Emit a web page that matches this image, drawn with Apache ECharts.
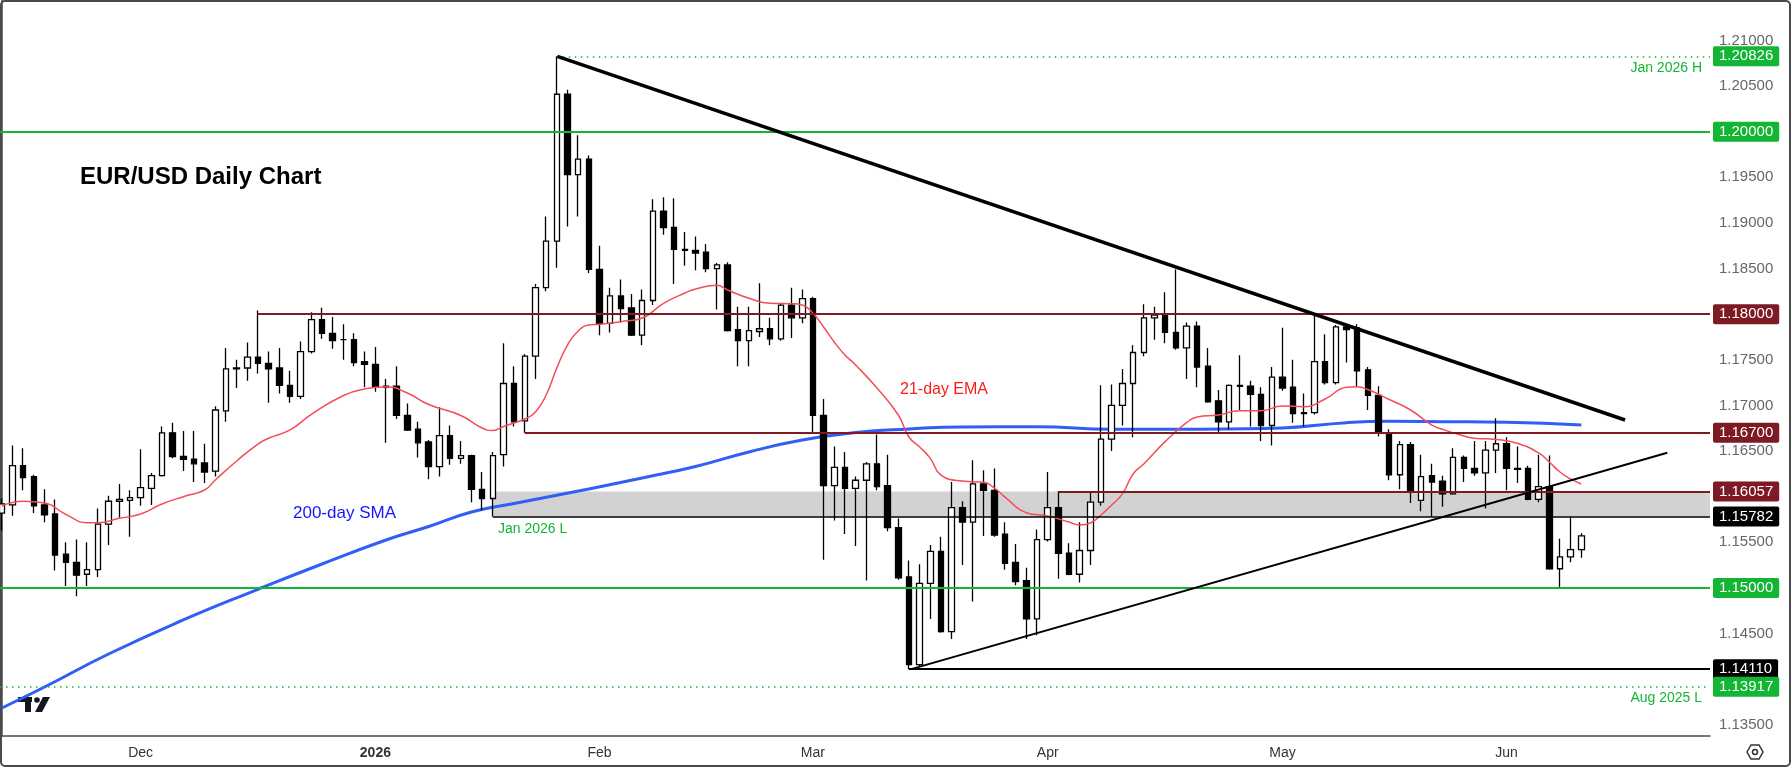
<!DOCTYPE html>
<html>
<head>
<meta charset="utf-8">
<title>EUR/USD Daily Chart</title>
<script src="https://cdn.jsdelivr.net/npm/echarts@6/dist/echarts.min.js"></script>
<style>
  html, body { margin: 0; padding: 0; background: #fff; }
  #chart { width: 1791px; height: 767px; }
</style>
</head>
<body>
<div id="chart"></div>
<script>
// daily bars, Nov 12 2025 .. Jun 10 2026 (index 0..148)
var opens = [1.1582,1.1591,1.1634,1.1622,1.1591,1.1581,1.1537,1.1528,1.1515,1.1520,1.1570,1.1595,1.1596,1.1599,1.1609,1.1623,1.1670,1.1644,1.1641,1.1637,
  1.1628,1.1694,1.1740,1.1741,1.1753,1.1746,1.1741,1.1722,1.1710,1.1759,1.1794,1.1779,1.1772,1.1772,1.1748,1.1745,1.1720,1.1721,1.1689,1.1674,
  1.1660,1.1633,1.1667,1.1642,1.1645,1.1608,1.1598,1.1646,1.1724,1.1683,1.1754,1.1829,1.1880,1.2041,1.1953,1.1970,1.1849,1.1790,1.1820,1.1807,
  1.1777,1.1815,1.1913,1.1895,1.1871,1.1870,1.1868,1.1850,1.1854,1.1783,1.1771,1.1781,1.1784,1.1773,1.1810,1.1796,1.1817,1.1689,1.1612,1.1632,
  1.1609,1.1618,1.1636,1.1612,1.1566,1.1512,1.1416,1.1505,1.1540,1.1452,1.1588,1.1572,1.1614,1.1607,1.1559,1.1528,1.1508,1.1466,1.1553,1.1588,
  1.1538,1.1515,1.1541,1.1594,1.1663,1.1700,1.1724,1.1758,1.1796,1.1799,1.1780,1.1763,1.1787,1.1743,1.1705,1.1682,1.1722,1.1721,1.1712,1.1678,
  1.1731,1.1720,1.1692,1.1692,1.1748,1.1725,1.1786,1.1785,1.1739,1.1711,1.1670,1.1624,1.1657,1.1596,1.1623,1.1617,1.1603,1.1643,1.1631,1.1626,
  1.1651,1.1658,1.1631,1.1631,1.1597,1.1611,1.1521,1.1534,1.1542];
var highs = [1.1598,1.1656,1.1653,1.1624,1.1608,1.1597,1.1550,1.1553,1.1550,1.1587,1.1601,1.1614,1.1607,1.1652,1.1626,1.1677,1.1681,1.1672,1.1672,1.1658,
  1.1699,1.1763,1.1750,1.1769,1.1804,1.1759,1.1763,1.1738,1.1770,1.1802,1.1807,1.1797,1.1789,1.1779,1.1759,1.1764,1.1729,1.1743,1.1702,1.1682,
  1.1662,1.1698,1.1678,1.1661,1.1646,1.1627,1.1649,1.1768,1.1743,1.1756,1.1833,1.1907,1.20826,1.2046,1.1996,1.1974,1.1875,1.1829,1.1838,1.1822,
  1.1827,1.1926,1.1928,1.1927,1.1890,1.1885,1.1877,1.1856,1.1857,1.1808,1.1808,1.1834,1.1796,1.1812,1.1829,1.1827,1.1819,1.1707,1.1655,1.1649,
  1.1622,1.1638,1.1668,1.1646,1.1576,1.1530,1.1526,1.1547,1.1556,1.1616,1.1595,1.1640,1.1629,1.1631,1.1572,1.1548,1.1522,1.1564,1.1627,1.1606,
  1.1549,1.1572,1.1605,1.1722,1.1723,1.1740,1.1766,1.1811,1.1808,1.1824,1.1849,1.1791,1.1792,1.1763,1.1717,1.1723,1.1755,1.1727,1.1720,1.1742,
  1.1785,1.1750,1.1713,1.1798,1.1778,1.1788,1.1789,1.1789,1.1742,1.1721,1.1674,1.1661,1.1660,1.1646,1.1636,1.1623,1.1653,1.1645,1.1661,1.1661,
  1.1686,1.1665,1.1655,1.1634,1.1646,1.1645,1.1554,1.1578,1.1560];
var lows = [1.1563,1.1579,1.1607,1.1582,1.1572,1.1519,1.1502,1.1491,1.1502,1.1512,1.1547,1.1577,1.1556,1.1590,1.1591,1.1622,1.1642,1.1628,1.1616,1.1615,
  1.1622,1.1682,1.1719,1.1727,1.1735,1.1703,1.1713,1.1703,1.1707,1.1757,1.1773,1.1762,1.1750,1.1743,1.1720,1.1715,1.1659,1.1685,1.1672,1.1643,
  1.1619,1.1622,1.1635,1.1636,1.1594,1.1585,1.15782,1.1633,1.1677,1.1670,1.1729,1.1825,1.1851,1.1896,1.1907,1.1845,1.1777,1.1780,1.1791,1.1776,
  1.1766,1.1810,1.1887,1.1833,1.1853,1.1848,1.1846,1.1805,1.1781,1.1743,1.1743,1.1775,1.1766,1.1771,1.1774,1.1790,1.1671,1.1531,1.1574,1.1559,
  1.1546,1.1508,1.1607,1.1562,1.1509,1.1411,1.1414,1.1466,1.1451,1.1444,1.1525,1.1485,1.1557,1.1556,1.1520,1.1503,1.1444,1.1448,1.1551,1.1510,
  1.1514,1.1506,1.1525,1.1590,1.1650,1.1678,1.1665,1.1754,1.1772,1.1768,1.1761,1.1729,1.1720,1.1703,1.1671,1.1674,1.1695,1.1677,1.1661,1.1656,
  1.1716,1.1681,1.1677,1.1690,1.1723,1.1723,1.1747,1.1720,1.1695,1.1666,1.1618,1.1608,1.1593,1.1584,1.1578,1.1589,1.1602,1.1616,1.1623,1.1587,
  1.1626,1.1607,1.1615,1.1596,1.1594,1.1520,1.1501,1.1528,1.1533];
var closes = [1.1592,1.1634,1.1621,1.1590,1.1580,1.1536,1.1528,1.1514,1.1520,1.1570,1.1595,1.1597,1.1599,1.1610,1.1623,1.1670,1.1644,1.1641,1.1636,1.1627,
  1.1695,1.1740,1.1741,1.1753,1.1746,1.1740,1.1722,1.1710,1.1759,1.1794,1.1779,1.1771,1.1772,1.1747,1.1745,1.1720,1.1721,1.1689,1.1673,1.1659,
  1.1633,1.1667,1.1642,1.1645,1.1608,1.1598,1.1645,1.1724,1.1682,1.1754,1.1829,1.1880,1.2041,1.1953,1.1970,1.1849,1.1790,1.1820,1.1806,1.1777,
  1.1815,1.1913,1.1895,1.1871,1.1870,1.1867,1.1850,1.1854,1.1782,1.1771,1.1782,1.1784,1.1773,1.1810,1.1796,1.1817,1.1689,1.1612,1.1632,1.1609,
  1.1618,1.1636,1.1611,1.1566,1.1511,1.1416,1.1505,1.1540,1.1452,1.1588,1.1572,1.1614,1.1607,1.1558,1.1527,1.1507,1.1466,1.1553,1.1588,1.1538,
  1.1515,1.1541,1.1594,1.1663,1.1700,1.1724,1.1758,1.1796,1.1799,1.1780,1.1763,1.1787,1.1742,1.1704,1.1682,1.1722,1.1721,1.1712,1.1678,1.1731,
  1.1719,1.1691,1.1691,1.1748,1.1725,1.1786,1.1783,1.1738,1.1711,1.1670,1.1624,1.1657,1.1606,1.1622,1.1616,1.1603,1.1643,1.1631,1.1626,1.1651,
  1.1658,1.1631,1.1630,1.1597,1.1611,1.1521,1.1534,1.1542,1.1557];

// 21-day EMA, read at these bars
var emaBars = [0,2,4,6,8,9,11,13,15,17,19,20,22,24,25,27,29,32,34,36,38,40,43,45,46,47,49,50,51,52,53,54,55,56,58,60,62,64,65,67,68,70,72,74,75,76,77,78,79,80,
  82,84,85,86,87,88,90,92,93,94,96,98,100,101,102,103,104,105,106,107,109,111,112,114,116,118,120,122,124,126,127,128,130,132,134,135,137,138,140,142,144,145,146,147,148];
var emaValues = [1.15898,1.15949,1.15931,1.15805,1.15715,1.15715,1.15763,1.15810,1.15920,1.16000,1.16073,1.16183,1.16391,1.16577,1.16640,1.16731,1.16901,1.17109,1.17180,1.17205,
  1.17136,1.17010,1.16890,1.16753,1.16725,1.16769,1.16851,1.16928,1.17114,1.17410,1.17662,1.17816,1.17881,1.17889,1.17918,1.17958,1.18119,1.18232,1.18276,1.18316,
  1.18265,1.18174,1.18119,1.18114,1.18101,1.18010,1.17859,1.17695,1.17553,1.17443,1.17191,1.16895,1.16654,1.16545,1.16420,1.16237,1.16171,1.16157,1.16095,1.15996,
  1.15824,1.15788,1.15722,1.15690,1.15712,1.15799,1.15909,1.16030,1.16249,1.16358,1.16603,1.16811,1.16873,1.16895,1.16942,1.16942,1.16994,1.16986,1.17071,1.17199,
  1.17205,1.17174,1.17065,1.16950,1.16785,1.16738,1.16665,1.16640,1.16627,1.16585,1.16479,1.16380,1.16270,1.16194,1.16139];

// 200-day SMA, read at these bars
var smaBars = [0,4,10,17,24,30,36,40,44,48,55,60,65,70,75,80,85,90,97,104,110,115,120,126,130,135,141,148];
var smaValues = [1.13684,1.13914,1.14276,1.14649,1.14985,1.15262,1.15525,1.15673,1.15832,1.15925,1.16084,1.16205,1.16331,1.16490,1.16621,1.16703,1.16742,1.16764,1.16767,1.16738,
  1.16738,1.16742,1.16753,1.16811,1.16826,1.16822,1.16815,1.16786];

// x-axis month labels (first bar of each month)
var monthBars = [13, 35, 56, 76, 98, 120, 141];
var monthLabels = ['Dec', '2026', 'Feb', 'Mar', 'Apr', 'May', 'Jun'];

// price scale labels shown in grey
var priceTicks = [1.135, 1.145, 1.155, 1.165, 1.17, 1.175, 1.185, 1.19, 1.195, 1.205, 1.21];

// horizontal levels: price, first bar (null = whole width), colour, style
var levelPrices = [1.20826, 1.20000, 1.18000, 1.16700, 1.16057, 1.15782, 1.15000, 1.14110, 1.13917];
var levelStart  = [52, null, 24, 49, 99, 46, null, 85, null];
var levelColors = ['#13b534', '#13b534', '#7d1a24', '#7d1a24', '#7d1a24', '#000000', '#13b534', '#000000', '#13b534'];
var levelWidths = [1.5, 2, 2, 2, 2, 1.5, 2, 2, 1.5];
var levelDotted = [true, false, false, false, false, false, false, false, true];

// trend lines [bar, price]
var downTrend = [[52.05, 1.20826], [152.1, 1.16840]];
var upTrend = [[85.2, 1.14110], [156.06, 1.16482]];

// support zone
var zoneLow = 1.15782, zoneHigh = 1.16057, zoneStart = 46;

var X_MIN = -0.175, X_MAX = 160.06;
var Y_MIN = 1.133772, Y_MAX = 1.214430;

var candles = opens.map(function (o, i) { return [i, o, closes[i], lows[i], highs[i]]; });
var ema = emaBars.map(function (b, i) { return [b, emaValues[i]]; });
var sma = smaBars.map(function (b, i) { return [b, smaValues[i]]; });

var levelLines = levelPrices.map(function (p, i) {
  return [
    { coord: [levelStart[i] == null ? X_MIN : levelStart[i], p] },
    {
      coord: [X_MAX, p],
      lineStyle: { color: levelColors[i], width: levelWidths[i], type: levelDotted[i] ? [1.5, 4.5] : 'solid' },
      label: {
        show: true, position: 'end', distance: 3,
        formatter: p.toFixed(5),
        color: '#fff', backgroundColor: levelColors[i],
        fontFamily: 'Liberation Sans', fontSize: 15, padding: [3, 6, 2, 6], borderRadius: 2
      }
    }
  ];
});

var FONT = 'Liberation Sans';

var chart = echarts.init(document.getElementById('chart'));
chart.setOption({
  animation: false,
  backgroundColor: '#ffffff',
  grid: { left: 0, right: 81, top: 0, bottom: 31 },
  xAxis: {
    type: 'value', min: X_MIN, max: X_MAX,
    splitLine: { show: false },
    axisTick: { show: false },
    axisLine: { show: true, onZero: false, lineStyle: { color: '#4a4a4a', width: 1.5 } },
    axisLabel: {
      customValues: monthBars,
      margin: 10,
      color: '#333', fontFamily: FONT, fontSize: 14,
      formatter: function (v) {
        var k = monthBars.indexOf(Math.round(v));
        var t = k < 0 ? '' : monthLabels[k];
        return t === '2026' ? '{b|2026}' : t;
      },
      rich: { b: { fontWeight: 'bold', color: '#333', fontFamily: FONT, fontSize: 14 } }
    }
  },
  yAxis: {
    type: 'value', position: 'right', min: Y_MIN, max: Y_MAX, scale: true,
    splitLine: { show: false },
    axisTick: { show: false },
    axisLine: { show: true, lineStyle: { color: '#4a4a4a', width: 1.5 } },
    axisLabel: {
      customValues: priceTicks,
      margin: 9,
      color: '#666', fontFamily: FONT, fontSize: 15,
      formatter: function (v) { return v.toFixed(5); }
    }
  },
  series: [
    {
      name: 'SMA200', type: 'line', data: sma, smooth: true, showSymbol: false, z: 1,
      lineStyle: { color: '#2f5ff5', width: 3 }
    },
    {
      name: 'levels', type: 'line', data: [], z: 1,
      markLine: { silent: true, symbol: ['none', 'none'], data: levelLines, animation: false }
    },
    {
      name: 'EURUSD', type: 'candlestick', data: candles, z: 2,
      encode: { x: 0, y: [1, 2, 3, 4] },
      barWidth: 6,
      itemStyle: { color: '#ffffff', color0: '#000000', borderColor: '#000000', borderColor0: '#000000', borderWidth: 1.3 }
    },
    {
      name: 'EMA21', type: 'line', data: ema, smooth: true, showSymbol: false, z: 3,
      lineStyle: { color: '#f44d5a', width: 1.5 }
    },
    {
      name: 'trend', type: 'line', data: [], z: 3,
      markLine: {
        silent: true, symbol: ['none', 'none'], label: { show: false }, animation: false,
        data: [
          [{ coord: downTrend[0] }, { coord: downTrend[1], lineStyle: { color: '#000', width: 3.5, type: 'solid' } }],
          [{ coord: upTrend[0] }, { coord: upTrend[1], lineStyle: { color: '#000', width: 2, type: 'solid' } }]
        ]
      }
    },
    {
      name: 'zone', type: 'line', data: [], z: 4,
      markArea: {
        silent: true,
        itemStyle: { color: 'rgba(160,160,160,0.48)' },
        data: [[{ coord: [zoneStart, zoneHigh] }, { coord: [X_MAX, zoneLow] }]]
      }
    }
  ],
  graphic: [
    { type: 'text', left: 80, top: 165, style: { text: 'EUR/USD Daily Chart', fill: '#000', font: 'bold 24px "Liberation Sans"' } },
    { type: 'text', left: 900, top: 382, style: { text: '21-day EMA', fill: '#ff1a1a', font: '16px "Liberation Sans"' } },
    { type: 'text', left: 293, top: 505, style: { text: '200-day SMA', fill: '#1414ff', font: '17px "Liberation Sans"' } },
    { type: 'text', left: 498, top: 522, style: { text: 'Jan 2026 L', fill: '#13b534', font: '14px "Liberation Sans"' } },
    { type: 'text', right: 89, top: 61, style: { text: 'Jan 2026 H', fill: '#13b534', font: '14px "Liberation Sans"' } },
    { type: 'text', right: 89, top: 691, style: { text: 'Aug 2025 L', fill: '#13b534', font: '14px "Liberation Sans"' } },
    // TradingView mark
    { type: 'group', left: 18, top: 697, children: [
      { type: 'rect', shape: { x: 0, y: 0, width: 14, height: 5 }, style: { fill: '#131722' } },
      { type: 'rect', shape: { x: 7, y: 0, width: 6, height: 15 }, style: { fill: '#131722' } },
      { type: 'circle', shape: { cx: 19, cy: 3, r: 2.8 }, style: { fill: '#131722' } },
      { type: 'polygon', shape: { points: [[25, 0], [32, 0], [24, 15], [17, 15]] }, style: { fill: '#131722' } }
    ] },
    // settings icon
    { type: 'polygon', shape: { points: [[1747, 752], [1751, 745], [1759, 745], [1763, 752], [1759, 759], [1751, 759]] }, style: { fill: 'none', stroke: '#333', lineWidth: 1.5 } },
    { type: 'circle', shape: { cx: 1755, cy: 752, r: 2.5 }, style: { fill: 'none', stroke: '#333', lineWidth: 1.5 } },
    // outer frame
    { type: 'rect', shape: { x: 1, y: 1, width: 1789, height: 765, r: 4 }, style: { fill: 'none', stroke: '#4a4a4a', lineWidth: 2 } }
  ]
});
</script>
</body>
</html>
